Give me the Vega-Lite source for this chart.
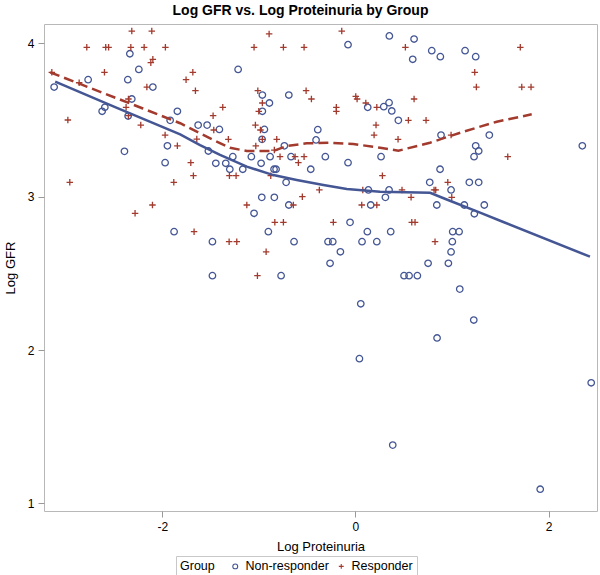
{
  "$schema": "https://vega.github.io/schema/vega-lite/v6.json",
  "autosize": {"type": "none"},
  "width": 553,
  "height": 487,
  "padding": {"left": 44, "top": 24, "right": 3, "bottom": 64},
  "title": {"text": "Log GFR vs. Log Proteinuria by Group", "fontSize": 14, "fontWeight": "bold", "color": "#000", "anchor": "middle", "dx": -20, "offset": 6},
  "datasets": {
    "pts": [
      {"g":"Non-responder","x":-2.335,"y":3.932},{"g":"Non-responder","x":-2.242,"y":3.830},{"g":"Non-responder","x":-2.767,"y":3.763},{"g":"Non-responder","x":-2.356,"y":3.763},{"g":"Non-responder","x":-3.119,"y":3.715},{"g":"Non-responder","x":-2.097,"y":3.715},{"g":"Non-responder","x":-2.315,"y":3.637},{"g":"Non-responder","x":-2.594,"y":3.583},{"g":"Non-responder","x":-2.622,"y":3.557},{"g":"Non-responder","x":-1.843,"y":3.557},{"g":"Non-responder","x":-2.353,"y":3.526},{"g":"Non-responder","x":-1.918,"y":3.498},{"g":"Non-responder","x":-1.628,"y":3.467},{"g":"Non-responder","x":-1.946,"y":3.332},{"g":"Non-responder","x":-2.391,"y":3.296},{"g":"Non-responder","x":-1.970,"y":3.222},
      {"g":"Non-responder","x":-0.076,"y":3.991},{"g":"Non-responder","x":-1.214,"y":3.830},{"g":"Non-responder","x":-0.963,"y":3.663},{"g":"Non-responder","x":-0.890,"y":3.611},{"g":"Non-responder","x":-0.689,"y":3.663},{"g":"Non-responder","x":-0.963,"y":3.557},{"g":"Non-responder","x":0.128,"y":3.583},{"g":"Non-responder","x":-1.535,"y":3.467},{"g":"Non-responder","x":-1.408,"y":3.439},{"g":"Non-responder","x":-0.942,"y":3.439},{"g":"Non-responder","x":-0.389,"y":3.437},{"g":"Non-responder","x":-0.966,"y":3.374},{"g":"Non-responder","x":-0.407,"y":3.370},{"g":"Non-responder","x":-0.735,"y":3.332},{"g":"Non-responder","x":-1.522,"y":3.298},{"g":"Non-responder","x":-1.269,"y":3.261},{"g":"Non-responder","x":-1.077,"y":3.261},{"g":"Non-responder","x":-0.883,"y":3.261},{"g":"Non-responder","x":-0.666,"y":3.261},{"g":"Non-responder","x":-0.311,"y":3.261},{"g":"Non-responder","x":0.266,"y":3.261},{"g":"Non-responder","x":-1.445,"y":3.218},{"g":"Non-responder","x":-1.342,"y":3.218},{"g":"Non-responder","x":-0.976,"y":3.218},{"g":"Non-responder","x":-0.076,"y":3.222},{"g":"Non-responder","x":-1.300,"y":3.179},{"g":"Non-responder","x":-1.166,"y":3.179},{"g":"Non-responder","x":-0.842,"y":3.179},{"g":"Non-responder","x":-0.821,"y":3.179},{"g":"Non-responder","x":-0.462,"y":3.179},{"g":"Non-responder","x":-0.717,"y":3.094},{"g":"Non-responder","x":0.135,"y":3.044},{"g":"Non-responder","x":-0.969,"y":2.996},{"g":"Non-responder","x":-0.839,"y":2.996},{"g":"Non-responder","x":-0.689,"y":2.946},{"g":"Non-responder","x":0.159,"y":2.946},{"g":"Non-responder","x":-1.049,"y":2.892},{"g":"Non-responder","x":-0.055,"y":2.833},
      {"g":"Non-responder","x":0.352,"y":4.048},{"g":"Non-responder","x":0.608,"y":4.028},{"g":"Non-responder","x":0.594,"y":3.896},{"g":"Non-responder","x":0.791,"y":3.952},{"g":"Non-responder","x":0.880,"y":3.913},{"g":"Non-responder","x":1.136,"y":3.952},{"g":"Non-responder","x":1.246,"y":3.913},{"g":"Non-responder","x":0.294,"y":3.587},{"g":"Non-responder","x":0.349,"y":3.613},{"g":"Non-responder","x":0.377,"y":3.559},{"g":"Non-responder","x":0.445,"y":3.498},{"g":"Non-responder","x":0.887,"y":3.402},{"g":"Non-responder","x":1.387,"y":3.402},{"g":"Non-responder","x":1.246,"y":3.332},{"g":"Non-responder","x":1.277,"y":3.298},{"g":"Non-responder","x":1.229,"y":3.261},{"g":"Non-responder","x":2.350,"y":3.332},{"g":"Non-responder","x":0.877,"y":3.179},{"g":"Non-responder","x":0.770,"y":3.094},{"g":"Non-responder","x":1.180,"y":3.094},{"g":"Non-responder","x":1.277,"y":3.094},{"g":"Non-responder","x":0.349,"y":3.044},{"g":"Non-responder","x":0.991,"y":3.044},{"g":"Non-responder","x":0.311,"y":2.996},{"g":"Non-responder","x":0.843,"y":2.946},{"g":"Non-responder","x":1.128,"y":2.946},{"g":"Non-responder","x":1.335,"y":2.946},{"g":"Non-responder","x":1.232,"y":2.889},
      {"g":"Non-responder","x":-0.901,"y":2.772},{"g":"Non-responder","x":0.124,"y":2.772},{"g":"Non-responder","x":-1.480,"y":2.707},{"g":"Non-responder","x":-0.635,"y":2.707},{"g":"Non-responder","x":-0.283,"y":2.707},{"g":"Non-responder","x":-0.234,"y":2.707},{"g":"Non-responder","x":0.069,"y":2.707},{"g":"Non-responder","x":0.222,"y":2.707},{"g":"Non-responder","x":-0.155,"y":2.641},{"g":"Non-responder","x":-0.262,"y":2.566},{"g":"Non-responder","x":-1.480,"y":2.485},{"g":"Non-responder","x":-0.769,"y":2.485},{"g":"Non-responder","x":0.056,"y":2.302},{"g":"Non-responder","x":-1.877,"y":2.772},{"g":"Non-responder","x":0.366,"y":2.772},{"g":"Non-responder","x":1.008,"y":2.772},{"g":"Non-responder","x":1.074,"y":2.772},{"g":"Non-responder","x":1.004,"y":2.707},{"g":"Non-responder","x":0.991,"y":2.640},{"g":"Non-responder","x":0.753,"y":2.566},{"g":"Non-responder","x":0.963,"y":2.566},{"g":"Non-responder","x":0.504,"y":2.485},{"g":"Non-responder","x":0.556,"y":2.485},{"g":"Non-responder","x":0.642,"y":2.485},{"g":"Non-responder","x":1.081,"y":2.398},{"g":"Non-responder","x":1.226,"y":2.196},{"g":"Non-responder","x":0.846,"y":2.079},{"g":"Non-responder","x":0.042,"y":1.944},{"g":"Non-responder","x":0.387,"y":1.381},{"g":"Non-responder","x":1.914,"y":1.093},{"g":"Non-responder","x":2.442,"y":1.787},
      {"g":"Responder","x":-2.315,"y":4.080},{"g":"Responder","x":-2.108,"y":4.080},{"g":"Responder","x":-2.781,"y":3.974},{"g":"Responder","x":-2.585,"y":3.974},{"g":"Responder","x":-2.555,"y":3.974},{"g":"Responder","x":-2.325,"y":3.974},{"g":"Responder","x":-2.187,"y":3.974},{"g":"Responder","x":-1.967,"y":3.974},{"g":"Responder","x":-2.097,"y":3.896},{"g":"Responder","x":-2.118,"y":3.874},{"g":"Responder","x":-3.143,"y":3.811},{"g":"Responder","x":-2.598,"y":3.811},{"g":"Responder","x":-1.683,"y":3.811},{"g":"Responder","x":-1.753,"y":3.763},{"g":"Responder","x":-2.860,"y":3.743},{"g":"Responder","x":-2.159,"y":3.715},{"g":"Responder","x":-1.656,"y":3.691},{"g":"Responder","x":-2.350,"y":3.637},{"g":"Responder","x":-2.374,"y":3.583},{"g":"Responder","x":-2.350,"y":3.528},{"g":"Responder","x":-2.977,"y":3.500},{"g":"Responder","x":-2.222,"y":3.467},{"g":"Responder","x":-1.970,"y":3.402},{"g":"Responder","x":-1.843,"y":3.332},{"g":"Responder","x":-1.704,"y":3.222},{"g":"Responder","x":-1.677,"y":3.137},{"g":"Responder","x":-2.957,"y":3.094},{"g":"Responder","x":-1.880,"y":3.094},{"g":"Responder","x":-2.101,"y":2.946},{"g":"Responder","x":-2.281,"y":2.892},{"g":"Responder","x":-1.642,"y":3.376},
      {"g":"Responder","x":-0.893,"y":4.061},{"g":"Responder","x":-0.141,"y":4.080},{"g":"Responder","x":-1.049,"y":3.974},{"g":"Responder","x":-0.745,"y":3.974},{"g":"Responder","x":-0.531,"y":3.974},{"g":"Responder","x":-1.010,"y":3.691},{"g":"Responder","x":-0.510,"y":3.691},{"g":"Responder","x":-0.455,"y":3.637},{"g":"Responder","x":-0.963,"y":3.611},{"g":"Responder","x":0.004,"y":3.654},{"g":"Responder","x":0.018,"y":3.637},{"g":"Responder","x":0.108,"y":3.611},{"g":"Responder","x":0.222,"y":3.583},{"g":"Responder","x":-1.373,"y":3.583},{"g":"Responder","x":-1.000,"y":3.557},{"g":"Responder","x":-0.197,"y":3.583},{"g":"Responder","x":-0.197,"y":3.557},{"g":"Responder","x":-1.473,"y":3.528},{"g":"Responder","x":-1.035,"y":3.467},{"g":"Responder","x":-1.466,"y":3.435},{"g":"Responder","x":-0.983,"y":3.435},{"g":"Responder","x":0.214,"y":3.467},{"g":"Responder","x":0.194,"y":3.402},{"g":"Responder","x":-1.315,"y":3.374},{"g":"Responder","x":-0.963,"y":3.374},{"g":"Responder","x":-0.814,"y":3.374},{"g":"Responder","x":-1.031,"y":3.331},{"g":"Responder","x":-0.839,"y":3.304},{"g":"Responder","x":-0.780,"y":3.261},{"g":"Responder","x":-0.624,"y":3.261},{"g":"Responder","x":-0.590,"y":3.222},{"g":"Responder","x":-0.531,"y":3.261},{"g":"Responder","x":-1.304,"y":3.137},{"g":"Responder","x":-1.235,"y":3.137},{"g":"Responder","x":-0.876,"y":3.137},{"g":"Responder","x":-0.373,"y":3.044},{"g":"Responder","x":0.077,"y":3.044},{"g":"Responder","x":-0.549,"y":3.000},{"g":"Responder","x":-1.124,"y":2.946},{"g":"Responder","x":0.066,"y":2.946},{"g":"Responder","x":-0.642,"y":2.946},{"g":"Responder","x":0.222,"y":2.946},
      {"g":"Responder","x":0.518,"y":3.974},{"g":"Responder","x":1.708,"y":3.974},{"g":"Responder","x":1.236,"y":3.811},{"g":"Responder","x":1.253,"y":3.715},{"g":"Responder","x":1.723,"y":3.715},{"g":"Responder","x":1.819,"y":3.715},{"g":"Responder","x":0.608,"y":3.637},{"g":"Responder","x":0.549,"y":3.498},{"g":"Responder","x":0.732,"y":3.498},{"g":"Responder","x":0.442,"y":3.374},{"g":"Responder","x":0.991,"y":3.402},{"g":"Responder","x":1.578,"y":3.261},{"g":"Responder","x":0.280,"y":3.137},{"g":"Responder","x":0.957,"y":3.094},{"g":"Responder","x":0.483,"y":3.044},{"g":"Responder","x":0.815,"y":3.044},{"g":"Responder","x":0.832,"y":3.044},{"g":"Responder","x":0.577,"y":2.996},{"g":"Responder","x":0.998,"y":2.996},{"g":"Responder","x":0.584,"y":2.833},{"g":"Responder","x":0.618,"y":2.833},{"g":"Responder","x":-1.670,"y":2.772},{"g":"Responder","x":-0.834,"y":2.833},{"g":"Responder","x":-0.745,"y":2.833},{"g":"Responder","x":-0.228,"y":2.833},{"g":"Responder","x":-1.307,"y":2.707},{"g":"Responder","x":-1.228,"y":2.707},{"g":"Responder","x":-0.924,"y":2.641},{"g":"Responder","x":-1.014,"y":2.485},{"g":"Responder","x":0.825,"y":2.707}
    ],
    "fitN": [
      {"x":-3.108,"y":3.750},{"x":-2.5,"y":3.587},{"x":-1.814,"y":3.407},{"x":-1.608,"y":3.337},{"x":-1.401,"y":3.272},{"x":-1.124,"y":3.196},{"x":-0.849,"y":3.141},{"x":-0.607,"y":3.109},{"x":-0.331,"y":3.076},{"x":-0.089,"y":3.050},{"x":0.256,"y":3.033},{"x":0.774,"y":3.026},{"x":0.946,"y":2.982},{"x":1.291,"y":2.896},{"x":1.532,"y":2.835},{"x":2.429,"y":2.609}
    ],
    "fitR": [
      {"x":-3.161,"y":3.811},{"x":-2.642,"y":3.684},{"x":-2.2,"y":3.575},{"x":-1.814,"y":3.479},{"x":-1.608,"y":3.413},{"x":-1.470,"y":3.370},{"x":-1.297,"y":3.319},{"x":-1.124,"y":3.298},{"x":-0.849,"y":3.298},{"x":-0.710,"y":3.331},{"x":-0.503,"y":3.348},{"x":-0.262,"y":3.352},{"x":-0.021,"y":3.344},{"x":0.256,"y":3.319},{"x":0.445,"y":3.300},{"x":0.773,"y":3.352},{"x":1.118,"y":3.424},{"x":1.464,"y":3.489},{"x":1.826,"y":3.537}
    ]
  },
  "layer": [
    {
      "data": {"name": "pts"},
      "mark": {"type": "point", "filled": false, "strokeWidth": 1.3, "opacity": 1},
      "encoding": {
        "x": {"field": "x", "type": "quantitative", "scale": {"domain": [-3.224, 2.502], "nice": false, "zero": false},
              "axis": {"title": "Log Proteinuria", "values": [-2, 0, 2], "labelExpr": "'' + datum.value", "labelPadding": 4, "titlePadding": 8}},
        "y": {"field": "y", "type": "quantitative", "scale": {"domain": [0.951, 4.126], "nice": false, "zero": false},
              "axis": {"title": "Log GFR", "values": [1, 2, 3, 4], "labelExpr": "'' + datum.value", "labelPadding": 4, "titlePadding": 10}},
        "color": {"field": "g", "type": "nominal", "scale": {"domain": ["Non-responder", "Responder"], "range": ["#445694", "#A23A2E"]},
                  "legend": {"title": "Group", "orient": "none", "legendX": 132, "legendY": 532, "direction": "horizontal", "titleOrient": "left", "strokeColor": "#c8c8c8", "padding": 4, "titleFontSize": 12.5, "titleFontWeight": "normal", "titleColor": "#000", "labelFontSize": 12.5, "labelColor": "#000", "titlePadding": 14, "columnPadding": 6, "symbolSize": 24, "symbolStrokeWidth": 1.1, "labelOffset": 4}},
        "shape": {"field": "g", "type": "nominal", "scale": {"domain": ["Non-responder", "Responder"], "range": ["circle", "M-1,0L1,0M0,-1L0,1"]}},
        "size": {"value": 42}
      }
    },
    {
      "data": {"name": "fitN"},
      "mark": {"type": "line", "color": "#445694", "strokeWidth": 2.5},
      "encoding": {"x": {"field": "x", "type": "quantitative"}, "y": {"field": "y", "type": "quantitative"}}
    },
    {
      "data": {"name": "fitR"},
      "mark": {"type": "line", "color": "#A23A2E", "strokeWidth": 2.5, "strokeDash": [10, 5]},
      "encoding": {"x": {"field": "x", "type": "quantitative"}, "y": {"field": "y", "type": "quantitative"}}
    }
  ],
  "config": {
    "font": "Liberation Sans",
    "view": {"stroke": "#b8b8b8", "strokeWidth": 1},
    "axis": {"domain": false, "grid": false, "tickColor": "#999999", "tickSize": 6, "labelColor": "#000", "labelFontSize": 12, "titleFontSize": 13, "titleFontWeight": "normal", "titleColor": "#000"}
  }
}
